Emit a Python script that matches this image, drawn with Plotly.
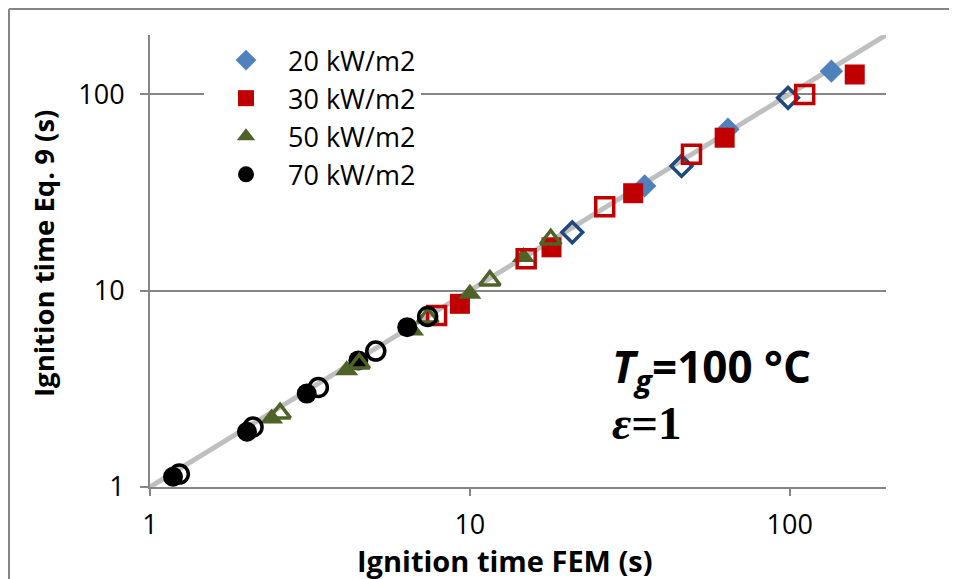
import plotly.graph_objects as go
import math

# Filled markers (one method) and open markers (other method)
x20_f = [35.2, 64.1, 135.0]
y20_f = [34.1, 66.2, 130.9]
x20_o = [20.9, 45.9, 98.8]
y20_o = [19.8, 43.1, 95.8]

x30_f = [9.31, 18.0, 32.4, 62.6, 159.7]
y30_f = [8.56, 16.6, 31.3, 60.0, 125.9]
x30_o = [7.87, 15.0, 26.4, 49.3, 111.4]
y30_o = [7.47, 14.5, 26.7, 49.4, 99.6]

x50_f = [2.40, 4.12, 6.62, 10.0, 14.7]
y50_f = [2.23, 3.93, 6.26, 9.62, 14.8]
x50_o = [2.55, 4.51, 7.39, 11.55, 17.9]
y50_o = [2.37, 4.25, 7.29, 11.24, 18.2]

x70_f = [1.18, 2.01, 3.09, 4.48, 6.37]
y70_f = [1.128, 1.91, 2.99, 4.41, 6.51]
x70_o = [1.235, 2.10, 3.36, 5.08, 7.38]
y70_o = [1.164, 2.02, 3.21, 4.92, 7.38]

ref_line = [1, 200]
tick_vals = [1, 10, 100]
tick_text = ["1", "10", "100"]

names = ["20 kW/m2", "30 kW/m2", "50 kW/m2", "70 kW/m2"]
colors_f = ["#4F81BD", "#C00000", "#4F6228", "#000000"]
colors_o = ["#1F497D", "#C00000", "#4F6228", "#000000"]
symbols = ["diamond", "square", "triangle-up", "circle"]
sizes = [18, 20, 20, 20]

FONT = "Open Sans"
fig = go.Figure()

fig.add_trace(go.Scatter(x=ref_line, y=ref_line, mode="lines",
                         line=dict(color="#BFBFBF", width=5),
                         showlegend=False, hoverinfo="skip"))

filled = [(x20_f, y20_f), (x30_f, y30_f), (x50_f, y50_f), (x70_f, y70_f)]
opened = [(x20_o, y20_o), (x30_o, y30_o), (x50_o, y50_o), (x70_o, y70_o)]

for i, (xs, ys) in enumerate(filled):
    fig.add_trace(go.Scatter(x=xs, y=ys, mode="markers", name=names[i],
                             marker=dict(symbol=symbols[i], size=sizes[i],
                                         color=colors_f[i], line=dict(width=0))))
for i, (xs, ys) in enumerate(opened):
    fig.add_trace(go.Scatter(x=xs, y=ys, mode="markers", name=names[i] + " (open)",
                             showlegend=False,
                             marker=dict(symbol=symbols[i] + "-open", size=sizes[i] - 2,
                                         color=colors_o[i],
                                         line=dict(width=3.5, color=colors_o[i]))))

# page body has an 8px margin: work in page pixels and convert
OFF = 8
W, H = 957 - OFF, 579 - OFF
L, R, T, B = 150 - OFF, 886 - OFF, 35 - OFF, 487 - OFF
pw, ph = R - L, B - T

def px(xp):
    return (xp - OFF - L) / pw

def py(yp):
    return (B - (yp - OFF)) / ph

fig.update_layout(
    width=W, height=H,
    margin=dict(l=L, r=W - R, t=T, b=H - B, pad=0),
    paper_bgcolor="white", plot_bgcolor="white",
    font=dict(family=FONT, size=27, color="#000000"),
    showlegend=True,
    legend=dict(x=px(204), y=py(36), xanchor="left", yanchor="top",
                bgcolor="white", borderwidth=0,
                font=dict(family=FONT, size=27, color="#000000"),
                itemsizing="trace", itemwidth=74, tracegroupgap=0),
    xaxis=dict(type="log", range=[0, math.log10(200)],
               tickvals=tick_vals, ticktext=tick_text,
               showgrid=False, showline=True, linecolor="#868686", linewidth=2,
               ticks="outside", ticklen=7, tickwidth=2, tickcolor="#868686",
               ticklabelstandoff=6, automargin=False,
               tickfont=dict(family=FONT, size=27, color="#000000"),
               zeroline=False, mirror=False),
    yaxis=dict(type="log", range=[0, math.log10(200)],
               tickvals=tick_vals, ticktext=tick_text,
               showgrid=True, gridcolor="#868686", gridwidth=2,
               showline=True, linecolor="#868686", linewidth=2,
               ticks="outside", ticklen=8, tickwidth=2, tickcolor="#868686",
               ticklabelstandoff=10, automargin=False,
               tickfont=dict(family=FONT, size=27, color="#000000"),
               zeroline=False),
)

# outer chart border (top and left visible)
fig.add_shape(type="line", xref="paper", yref="paper",
              x0=px(9), x1=px(957), y0=py(9), y1=py(9),
              line=dict(color="#868686", width=2))
fig.add_shape(type="line", xref="paper", yref="paper",
              x0=px(9), x1=px(9), y0=py(9), y1=py(579),
              line=dict(color="#868686", width=2))

fig.add_annotation(xref="paper", yref="paper", x=px(505), y=py(560),
                   text="<b>Ignition time FEM (s)</b>", showarrow=False,
                   font=dict(family=FONT, size=29, color="#000000"),
                   xanchor="center", yanchor="middle")
fig.add_annotation(xref="paper", yref="paper", x=px(43), y=py(254),
                   text="<b>Ignition time Eq. 9 (s)</b>", showarrow=False,
                   textangle=-90,
                   font=dict(family=FONT, size=27.5, color="#000000"),
                   xanchor="center", yanchor="middle")
fig.add_annotation(xref="paper", yref="paper", x=px(610), y=py(368),
                   text="<b><i>T</i><sub><i>g</i></sub>=100 °C</b>", showarrow=False,
                   font=dict(family=FONT, size=44, color="#000000"),
                   xanchor="left", yanchor="middle")
fig.add_annotation(xref="paper", yref="paper", x=px(610), y=py(423),
                   text="<b><i>ε</i>=1</b>", showarrow=False,
                   font=dict(family="Liberation Serif", size=47, color="#000000"),
                   xanchor="left", yanchor="middle")

fig.write_html("out.html")
